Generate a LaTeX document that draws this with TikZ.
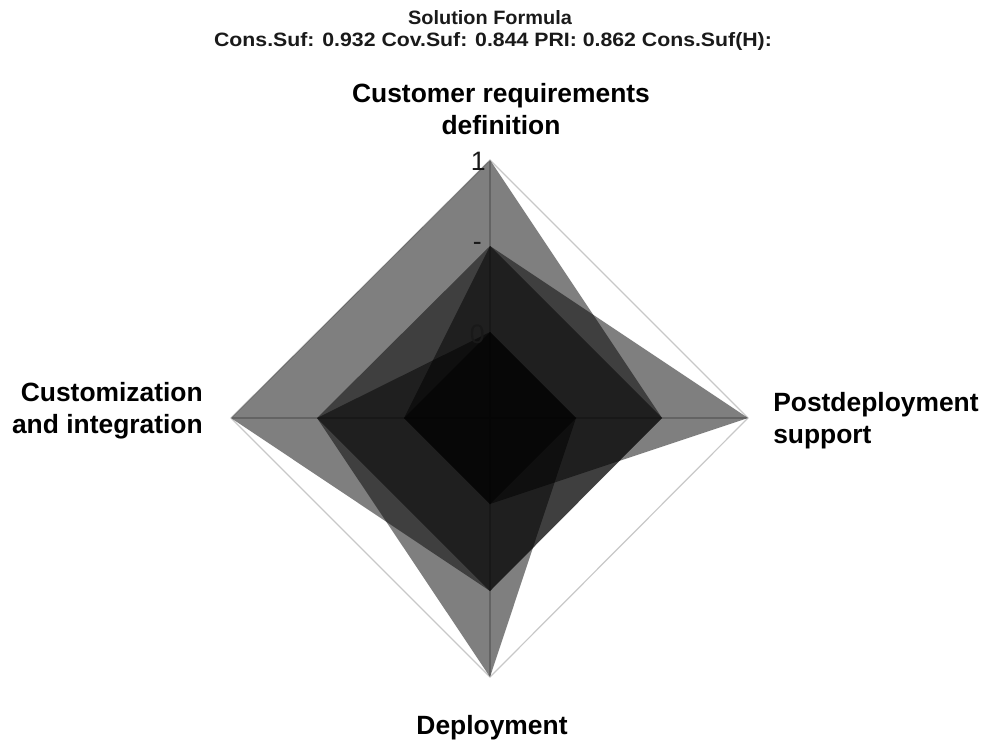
\documentclass[tikz,border=0pt]{standalone}
\usepackage{fontspec}
\setmainfont{Liberation Sans}
\definecolor{gridgray}{HTML}{C8C8C8}
\definecolor{titlecol}{HTML}{1A1A1A}
\begin{document}
\begin{tikzpicture}[x=0.75pt,y=-0.75pt,
  gridline/.style={draw=gridgray,line width=0.9pt},
  axisline/.style={draw=gridgray,line width=0.9pt},
  poly/.style={fill=black,fill opacity=0.5,draw=none},
  axlbl/.style={font=\bfseries\fontsize{19.8}{24}\selectfont,text=black,inner sep=0pt},
  ticklbl/.style={font=\fontsize{20}{24}\selectfont,text=black!90,inner sep=0pt,anchor=east},
  titlelbl/.style={font=\bfseries\fontsize{14.5}{17}\selectfont,text=titlecol,inner sep=0pt}]
\useasboundingbox (0,0) rectangle (985,746);
% centre and level points
\coordinate (O) at (490,418);
\coordinate (t3) at (490,160); \coordinate (t2) at (490,246); \coordinate (t1) at (490,332);
\coordinate (r3) at (748,418); \coordinate (r2) at (662,418); \coordinate (r1) at (576,418);
\coordinate (b3) at (490,677); \coordinate (b2) at (490,591); \coordinate (b1) at (490,504);
\coordinate (l3) at (231,418); \coordinate (l2) at (317,418); \coordinate (l1) at (404,418);
% grid
\draw[gridline] (t3) -- (r3) -- (b3) -- (l3) -- cycle;
\draw[axisline] (O) -- (t3);
\draw[axisline] (O) -- (r3);
\draw[axisline] (O) -- (b3);
\draw[axisline] (O) -- (l3);
% configurations
\fill[poly] (t3) -- (r2) -- (b2) -- (l3) -- cycle;
\fill[poly] (t2) -- (r3) -- (b1) -- (l1) -- cycle;
\fill[poly] (t1) -- (r1) -- (b3) -- (l2) -- cycle;
\fill[poly] (t2) -- (r2) -- (b2) -- (l2) -- cycle;
\fill[poly] (t1) -- (r1) -- (b1) -- (l1) -- cycle;
% tick labels
\node[ticklbl] (k1) at (486,161) {1};
\node[ticklbl] (k2) at (482,246) {-};
\node[ticklbl] (k0) at (485,334) {0};
% axis labels
\node[axlbl,align=center] (ct) at (501,109) {Customer requirements\\definition};
\node[axlbl,align=left,anchor=west] (cr) at (773,421) {Postdeployment\\support};
\node[axlbl] (cb) at (492,728) {Deployment};
\node[axlbl,align=right,anchor=east] (cl) at (203,411) {Customization\\and integration};
% title
\node[titlelbl] (h1) at (490,18) {\scalebox{1.03}[1]{Solution Formula}};
\node[titlelbl] (h2) at (493,42) {\scalebox{1.10}[1]{Cons.Suf: 0.932 Cov.Suf: 0.844 PRI: 0.862 Cons.Suf(H):}};
\end{tikzpicture}
\end{document}
